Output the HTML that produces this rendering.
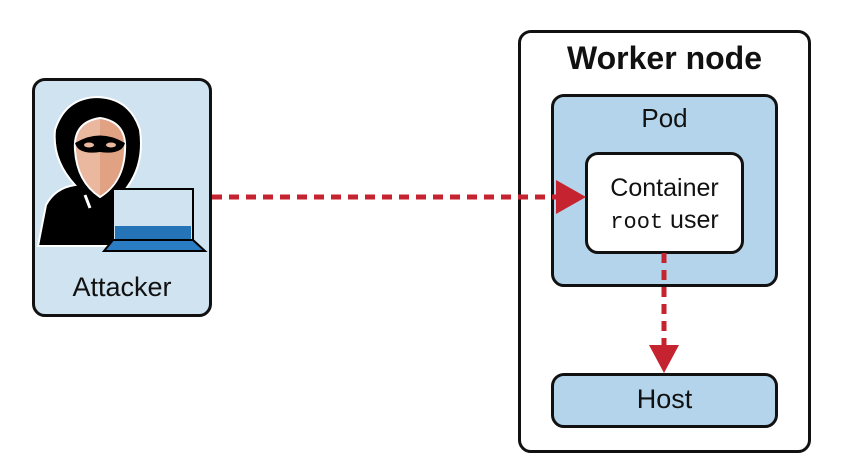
<!DOCTYPE html>
<html><head><style>
body{margin:0;width:862px;height:466px;background:#fff;position:relative;font-family:"Liberation Sans",sans-serif;overflow:hidden}
.b{position:absolute;box-sizing:border-box;border:3px solid #111;border-radius:13px}
.t{position:absolute;text-align:center;color:#111}
</style></head><body>
<div class="b" style="left:32px;top:78px;width:180px;height:239px;background:#cfe3f0"></div>
<div class="t" style="left:32px;top:272px;width:180px;font-size:27px">Attacker</div>
<svg style="position:absolute;left:0;top:0" width="862" height="466">
 <path d="M38,246 L46,205 Q55,188 75,185 Q52,160 55,130 Q65,98 97,97 Q130,98 140,130 Q145,165 125,190 L130,246 Z" fill="#000" stroke="#fff" stroke-width="2"/>
 <path d="M75,150 Q73,122 100,118 Q127,122 125,150 Q124,182 100,197 Q77,182 75,150Z" fill="#eab79f" stroke="#fff" stroke-width="2"/>
 <path d="M100,119 L100,196 Q123,182 124,150 Q126,123 100,119Z" fill="#e0a283"/>
 <path d="M75,143 Q100,128 125,143 Q122,155 100,152 Q78,155 75,143Z" fill="#000"/>
 <ellipse cx="89" cy="145" rx="5" ry="2.5" fill="#eab79f"/><ellipse cx="111" cy="145" rx="5" ry="2.5" fill="#eab79f"/>
 <path d="M85,195 L90,208" stroke="#fff" stroke-width="3"/>
 <rect x="113" y="189" width="80" height="51" fill="#cfe3f0" stroke="#000" stroke-width="2"/>
 <rect x="115" y="226" width="76" height="13" fill="#2574b8"/>
 <path d="M104,251 L113,240 L193,240 L205,251Z" fill="#2a7dc3" stroke="#000" stroke-width="2"/>
</svg>
<div class="b" style="left:518px;top:30px;width:293px;height:423px;background:#fff"></div>
<div class="t" style="left:518px;top:40px;width:293px;font-size:32px;font-weight:bold">Worker node</div>
<div class="b" style="left:551px;top:94px;width:227px;height:193px;background:#b3d4ea"></div>
<div class="t" style="left:551px;top:103px;width:227px;font-size:26px">Pod</div>
<div class="b" style="left:585px;top:152px;width:159px;height:102px;background:#fff"></div>
<div class="t" style="left:585px;top:172px;width:159px;font-size:25px;line-height:32px">Container<br><span style="font-family:'Liberation Mono',monospace;font-size:22px">root</span> user</div>
<div class="b" style="left:551px;top:373px;width:227px;height:55px;background:#b3d4ea"></div>
<div class="t" style="left:551px;top:384px;width:227px;font-size:27px">Host</div>
<svg style="position:absolute;left:0;top:0" width="862" height="466">
 <line x1="212" y1="197" x2="556" y2="197" stroke="#c5232f" stroke-width="5" stroke-dasharray="10,7"/>
 <polygon points="556,180 586,197 556,214" fill="#c5232f"/>
 <line x1="664" y1="253" x2="664" y2="345" stroke="#c5232f" stroke-width="5" stroke-dasharray="10,7"/>
 <polygon points="649,345 679,345 664,373" fill="#c5232f"/>
</svg>
</body></html>
